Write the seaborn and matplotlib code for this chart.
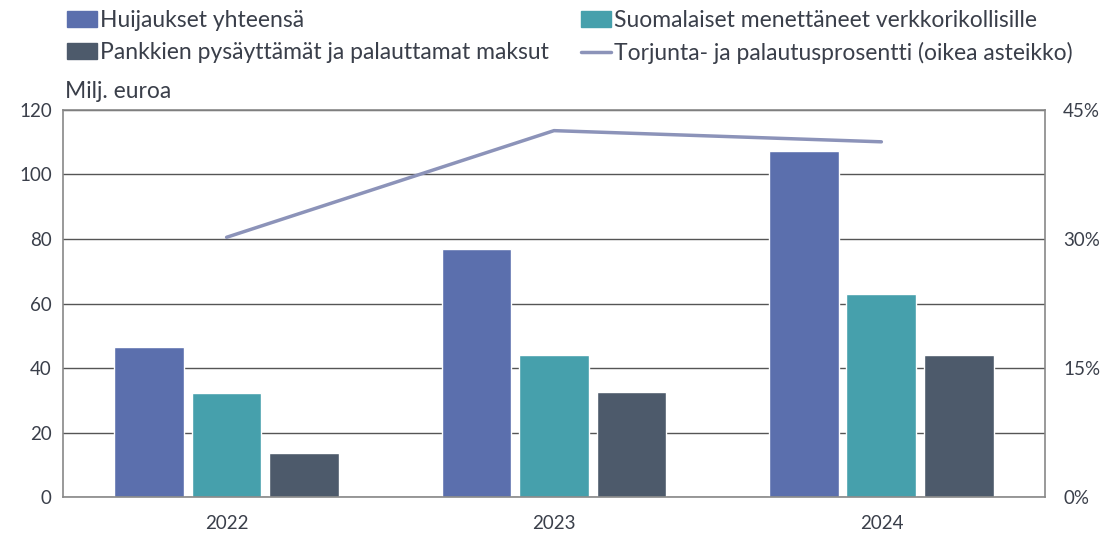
import pandas as pd
import matplotlib.pyplot as plt
import seaborn as sns
from matplotlib.patches import Patch
from matplotlib.lines import Line2D

# Data
years = ['2022', '2023', '2024']
huijaukset = [46.5, 77.0, 107.3]
menettaneet = [32.2, 44.0, 62.9]
pysaytetyt = [13.6, 32.6, 44.0]
torjunta_pct = [30.2, 42.6, 41.3]

series_names = ['Huijaukset yhteensä',
                'Suomalaiset menettäneet verkkorikollisille',
                'Pankkien pysäyttämät ja palauttamat maksut']
line_name = 'Torjunta- ja palautusprosentti (oikea asteikko)'
colors = ['#5B6FAD', '#46A0AC', '#4D5A6B']
line_color = '#8C93B9'

df = pd.DataFrame({
    'year': years * 3,
    'value': huijaukset + menettaneet + pysaytetyt,
    'series': [series_names[0]] * 3 + [series_names[1]] * 3 + [series_names[2]] * 3,
})

sns.set_style('white')
plt.rcParams['font.family'] = ['Lato', 'DejaVu Sans']
text_color = '#3A3F4A'

fig = plt.figure(figsize=(11.04, 5.35), dpi=100)
ax = fig.add_axes([0.057, 0.071, 0.8896, 0.7234])

sns.barplot(data=df, x='year', y='value', hue='series', palette=colors,
            width=0.71, gap=0.1, saturation=1, legend=False, ax=ax)
ax.set_xlim(-0.5, 2.5)
ax.set_ylim(0, 120)
ax.set_yticks(range(0, 121, 20))
ax.set_xlabel('')
ax.set_ylabel('')
ax.grid(axis='y', color='#555555', linewidth=1)
ax.set_axisbelow(True)
for s in ax.spines.values():
    s.set_color('#888888')
    s.set_linewidth(1.2)
ax.tick_params(axis='both', length=0, labelsize=13.5, colors=text_color, pad=8)
ax.tick_params(axis='x', pad=13)

ax2 = ax.twinx()
sns.lineplot(x=[0, 1, 2], y=torjunta_pct, color=line_color, linewidth=2.5, ax=ax2)
ax2.set_ylim(0, 45)
ax2.set_yticks([0, 15, 30, 45])
ax2.set_yticklabels(['0%', '15%', '30%', '45%'])
ax2.tick_params(axis='y', length=0, labelsize=13.5, colors=text_color, pad=13)
for s in ax2.spines.values():
    s.set_visible(False)

fig.text(0.059, 0.81, 'Milj. euroa', fontsize=16.5, color=text_color, va='bottom')

# column-wise fill: left column H, P; right column S, T
handles = [Patch(color=colors[0]), Patch(color=colors[2]),
           Patch(color=colors[1]), Line2D([], [], color=line_color, linewidth=2.5)]
labels = [series_names[0], series_names[2], series_names[1], line_name]
fig.legend(handles, labels, ncol=2, loc='upper left', bbox_to_anchor=(0.042, 1.02),
           frameon=False, fontsize=16.5, handlelength=1.3, handletextpad=0.15,
           columnspacing=1.4, labelspacing=0.5, labelcolor=text_color)

fig.savefig('out.png', dpi=100)
